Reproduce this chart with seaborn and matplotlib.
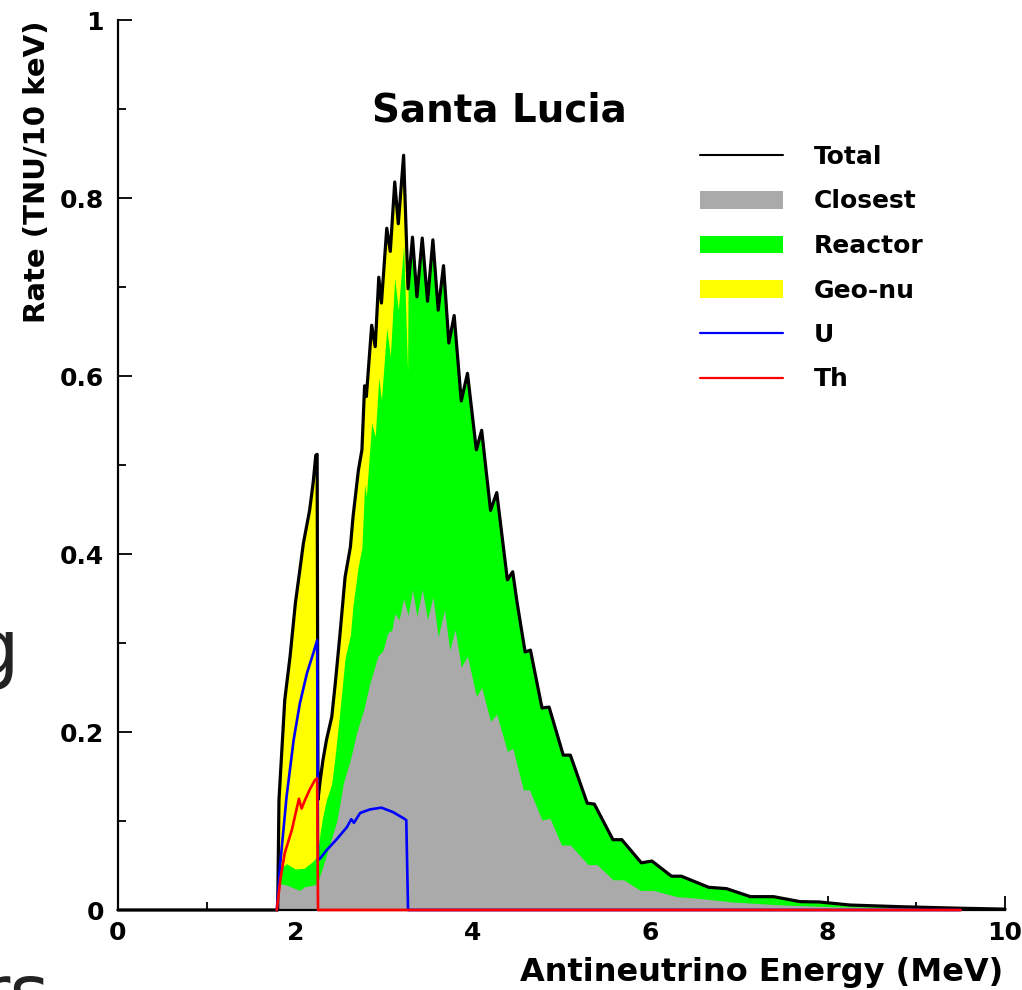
import matplotlib
matplotlib.use("Agg")
import matplotlib.pyplot as plt
from matplotlib.ticker import MultipleLocator, FuncFormatter
from matplotlib.lines import Line2D
from matplotlib.patches import Patch
import seaborn as sns

# ---------------- data ----------------
total_x = [0.0, 1.78, 1.80, 1.815, 1.88, 1.94, 2.00, 2.05, 2.09, 2.16, 2.20, 2.23, 2.245,
           2.255, 2.28, 2.31, 2.35, 2.41, 2.45, 2.50, 2.56, 2.62, 2.65, 2.71, 2.75,
           2.78, 2.80, 2.86, 2.90, 2.94, 2.97, 3.03, 3.07, 3.12, 3.16, 3.22, 3.27,
           3.32, 3.37, 3.43, 3.49, 3.55, 3.61, 3.67, 3.73, 3.79, 3.87, 3.94, 4.04,
           4.10, 4.20, 4.27, 4.39, 4.45, 4.50, 4.59, 4.65, 4.78, 4.86, 5.02, 5.10,
           5.29, 5.37, 5.58, 5.68, 5.90, 6.02, 6.24, 6.35, 6.66, 6.86, 7.13, 7.39,
           7.69, 7.91, 8.25, 8.82, 9.49, 10.0]
total_y = [0.0, 0.0, 0.0, 0.124, 0.236, 0.285, 0.345, 0.382, 0.412, 0.449, 0.480, 0.511, 0.512,
           0.124, 0.146, 0.168, 0.191, 0.217, 0.255, 0.307, 0.374, 0.408, 0.442, 0.494, 0.517,
           0.589, 0.577, 0.657, 0.633, 0.711, 0.682, 0.766, 0.740, 0.818, 0.771, 0.848, 0.698,
           0.756, 0.689, 0.755, 0.684, 0.753, 0.674, 0.724, 0.637, 0.668, 0.572, 0.603, 0.517,
           0.539, 0.449, 0.469, 0.371, 0.380, 0.345, 0.290, 0.292, 0.227, 0.228, 0.174, 0.174,
           0.120, 0.119, 0.079, 0.079, 0.053, 0.055, 0.038, 0.038, 0.0255, 0.024, 0.015, 0.015,
           0.0094, 0.009, 0.0056, 0.0037, 0.002, 0.001]

# reactor (green) top where geo-nu sits above it; above 3.27 MeV it is the total curve
reactor_x = [1.79, 1.81, 1.90, 2.00, 2.10, 2.20, 2.245, 2.255, 2.28, 2.31, 2.35, 2.41, 2.45,
             2.50, 2.56, 2.62, 2.65, 2.71, 2.75, 2.78, 2.80, 2.86, 2.90, 2.94, 2.97, 3.03,
             3.07, 3.12, 3.16, 3.22, 3.265]
reactor_y = [0.0, 0.045, 0.052, 0.046, 0.047, 0.055, 0.060, 0.068, 0.088, 0.106, 0.124, 0.142,
             0.175, 0.222, 0.283, 0.309, 0.343, 0.387, 0.407, 0.478, 0.465, 0.547, 0.532, 0.598,
             0.573, 0.654, 0.622, 0.710, 0.674, 0.747, 0.605]

closest_x = [1.79, 1.81, 1.90, 2.00, 2.05, 2.10, 2.20, 2.25, 2.26, 2.31, 2.39, 2.47, 2.54,
             2.62, 2.69, 2.77, 2.84, 2.93, 2.99, 3.04, 3.09, 3.12, 3.17, 3.22, 3.27, 3.32,
             3.37, 3.43, 3.49, 3.55, 3.61, 3.68, 3.74, 3.80, 3.87, 3.94, 4.04, 4.10, 4.20,
             4.27, 4.39, 4.45, 4.57, 4.64, 4.78, 4.87, 5.00, 5.10, 5.30, 5.40, 5.58, 5.70,
             5.89, 6.04, 6.30, 6.56, 6.93, 7.50, 8.06, 9.19, 10.0]
closest_y = [0.0, 0.030, 0.028, 0.024, 0.022, 0.026, 0.028, 0.030, 0.034, 0.049, 0.075, 0.101,
             0.142, 0.169, 0.199, 0.225, 0.255, 0.285, 0.292, 0.311, 0.315, 0.333, 0.326, 0.350,
             0.331, 0.360, 0.330, 0.360, 0.326, 0.352, 0.307, 0.337, 0.292, 0.315, 0.273, 0.285,
             0.240, 0.250, 0.212, 0.220, 0.178, 0.182, 0.135, 0.135, 0.101, 0.103, 0.073, 0.073,
             0.051, 0.051, 0.034, 0.034, 0.022, 0.022, 0.015, 0.013, 0.009, 0.0056, 0.0037,
             0.002, 0.001]

u_x = [1.79, 1.83, 1.90, 1.98, 2.05, 2.13, 2.20, 2.245, 2.255, 2.28, 2.35, 2.47, 2.58, 2.63,
       2.66, 2.73, 2.84, 2.97, 3.10, 3.22, 3.25, 3.27, 9.5]
u_y = [0.0, 0.053, 0.127, 0.191, 0.232, 0.266, 0.288, 0.303, 0.056, 0.058, 0.067, 0.080,
       0.093, 0.102, 0.098, 0.109, 0.113, 0.115, 0.110, 0.103, 0.101, 0.0, 0.0]

th_x = [1.79, 1.83, 1.88, 1.96, 2.01, 2.04, 2.07, 2.11, 2.16, 2.22, 2.245, 2.255, 9.5]
th_y = [0.0, 0.034, 0.064, 0.090, 0.112, 0.125, 0.114, 0.124, 0.135, 0.146, 0.148, 0.0, 0.0]

legend_labels = ["Total", "Closest", "Reactor", "Geo-nu", "U", "Th"]
x_ticks = [0, 2, 4, 6, 8, 10]
y_ticks = [0, 0.2, 0.4, 0.6, 0.8, 1.0]

# ---------------- style ----------------
sns.set_theme(style="ticks")
plt.rcParams['font.family'] = ['DejaVu Sans']
plt.rcParams['font.weight'] = 'bold'
plt.rcParams['text.color'] = 'black'
plt.rcParams['axes.labelcolor'] = 'black'
plt.rcParams['xtick.color'] = 'black'
plt.rcParams['ytick.color'] = 'black'
plt.rcParams['xtick.labelcolor'] = 'black'
plt.rcParams['ytick.labelcolor'] = 'black'
plt.rcParams['axes.edgecolor'] = 'black'

C_GRAY = "#AAAAAA"
C_GREEN = "#00FF00"
C_YELLOW = "#FFFF00"

W, H = 1022, 990
fig = plt.figure(figsize=(W / 100, H / 100), dpi=100)
ax = fig.add_axes([118 / W, 80 / H, 887 / W, 890 / H])
ax.set_xlim(0, 10)
ax.set_ylim(0, 1)

# stacked areas, painted back to front
ax.fill_between(total_x, total_y, color=C_YELLOW, lw=0, zorder=1)
green_x = reactor_x + [x for x in total_x if x > 3.265]
green_y = reactor_y + [y for x, y in zip(total_x, total_y) if x > 3.265]
ax.fill_between(green_x, green_y, color=C_GREEN, lw=0, zorder=2)
ax.fill_between(closest_x, closest_y, color=C_GRAY, lw=0, zorder=3)

sns.lineplot(x=total_x, y=total_y, color="black", lw=2.3, ax=ax, sort=False,
             estimator=None, legend=False, zorder=5, clip_on=False)
sns.lineplot(x=u_x, y=u_y, color="#0000FF", lw=1.9, ax=ax, sort=False,
             estimator=None, legend=False, zorder=6, clip_on=False)
sns.lineplot(x=th_x, y=th_y, color="#FF0000", lw=1.9, ax=ax, sort=False,
             estimator=None, legend=False, zorder=7, clip_on=False)

# axes styling (ROOT-like)
for s in ["top", "right"]:
    ax.spines[s].set_visible(False)
for s in ["left", "bottom"]:
    ax.spines[s].set_linewidth(1.6)
    ax.spines[s].set_color("black")
    ax.spines[s].set_zorder(4)

ax.set_xticks(x_ticks)
ax.set_yticks(y_ticks)
ax.xaxis.set_minor_locator(MultipleLocator(1))
ax.yaxis.set_minor_locator(MultipleLocator(0.1))
fmt = FuncFormatter(lambda v, p: "%g" % v)
ax.xaxis.set_major_formatter(fmt)
ax.yaxis.set_major_formatter(fmt)
ax.tick_params(which="both", direction="in", color="black", width=1.3,
               top=False, right=False, labelcolor="black")
ax.tick_params(which="major", length=10)
ax.tick_params(which="minor", length=5.5)
ax.tick_params(axis="y", which="major", labelsize=18, pad=10)
ax.tick_params(axis="x", which="major", labelsize=18, pad=8)
for lab in ax.get_xticklabels() + ax.get_yticklabels():
    lab.set_fontweight("bold")
    lab.set_color("black")
ax.set_xlabel("")
ax.set_ylabel("")

# texts
fig.text(499 / W, 1 - 121 / H, "Santa Lucia", fontsize=28, fontweight="bold",
         ha="center", va="baseline", color="black")
fig.text(1003 / W, 8.5 / H, "Antineutrino Energy (MeV)", fontsize=23, fontweight="bold",
         ha="right", va="baseline", color="black")
fig.text(37 / W, 1 - 172 / H, "Rate (TNU/10 keV)", fontsize=21, fontweight="bold",
         rotation=90, ha="center", va="center", color="black")

# fragments of the surrounding page visible at the left edge
fig.text(-29 / W, 1 - 674 / H, "g", fontsize=55, fontweight="normal", color="#222222",
         ha="left", va="baseline")
fig.text(-22 / W, -29 / H, "rs", fontsize=55, fontweight="normal", color="#222222",
         ha="left", va="baseline")

# legend
handles = [
    Line2D([], [], color="black", lw=1.5),
    Patch(facecolor=C_GRAY, edgecolor="none"),
    Patch(facecolor=C_GREEN, edgecolor="none"),
    Patch(facecolor=C_YELLOW, edgecolor="none"),
    Line2D([], [], color="#0000FF", lw=1.6),
    Line2D([], [], color="#FF0000", lw=1.6),
]
leg = fig.legend(handles, legend_labels, loc="upper left",
                 bbox_to_anchor=(700 / W, 1 - 145 / H), frameon=False,
                 prop={"size": 18, "weight": "bold"}, handlelength=3.3,
                 handleheight=0.7, handletextpad=1.25, labelspacing=0.82,
                 borderpad=0, borderaxespad=0)
for t in leg.get_texts():
    t.set_color("black")

fig.savefig("out.png", dpi=100)
